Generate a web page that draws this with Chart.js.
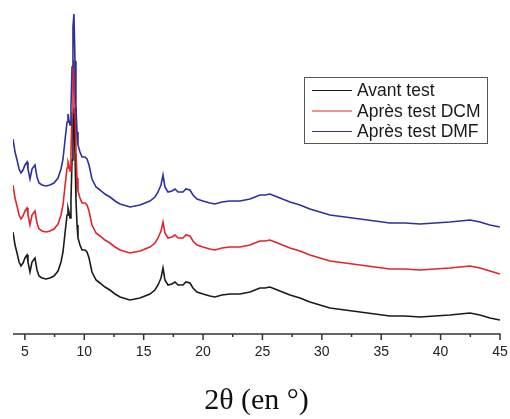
<!DOCTYPE html>
<html><head><meta charset="utf-8">
<script src="https://cdn.jsdelivr.net/npm/chart.js@4.4.1/dist/chart.umd.min.js"></script>
<style>html,body{margin:0;padding:0;background:#fff;} canvas{display:block;}</style>
</head><body>
<canvas id="c" width="510" height="419"></canvas>
<script>
// 2θ positions (degrees)
const twoTheta = [4.00,4.17,4.34,4.51,4.67,4.84,5.01,5.18,5.26,5.43,5.60,5.85,6.02,6.19,6.44,6.78,7.11,7.45,7.79,8.04,
  8.21,8.38,8.55,8.63,8.71,8.80,8.88,8.97,9.05,9.13,9.22,9.30,9.39,9.47,9.64,9.81,10.06,10.23,10.40,10.65,
  10.99,11.32,11.74,12.16,12.59,13.01,13.85,14.69,15.53,15.95,16.21,16.46,16.63,16.79,17.05,17.38,17.64,17.89,18.31,18.56,
  18.90,19.15,19.49,19.99,20.58,21.00,21.59,22.27,23.11,23.95,24.37,24.79,25.21,25.63,26.05,26.47,27.32,28.16,29.00,29.84,
  30.68,31.95,33.21,34.47,35.73,37.00,38.26,39.52,40.78,41.63,42.47,43.31,44.15,44.99];
// intensities (arbitrary units, stacked offsets as in the figure)
const avantTest = [102,89,81,72,68,71,76,79,72,62, 72,76,64,58,56,55,56,58,63,72,
  82,101,119,126,122,116,134,174,214,226, 180,135,109,96,89,84,84,82,76,62,
  54,51,47,44,40,37,34,36,40,44, 49,56,66,54,49,50,52,49,49,52,
  51,46,42,40,38,37,39,40,40,42, 44,46,46,47,45,43,39,36,32,29,
  26,24,22,20,18,18,17,18,19,20, 21,19,16,14];
const apresDCM = [149,136,128,119,115,118,123,126,119,109, 119,123,111,105,103,102,103,105,110,119,
  129,148,166,172,169,163,181,221,261,274, 227,182,156,143,136,131,131,129,123,109,
  101,98,94,91,87,84,81,83,87,91, 96,103,112,101,96,97,99,96,96,99,
  98,93,89,87,85,84,86,87,87,89, 91,93,93,94,92,90,86,83,79,76,
  73,71,69,67,65,65,64,65,66,67, 68,66,63,60];
const apresDMF = [195,182,174,165,161,164,169,172,165,155, 165,169,157,151,149,148,149,151,156,165,
  175,194,212,220,214,209,227,267,307,320, 273,228,202,189,182,177,177,175,169,155,
  147,144,140,137,133,130,127,129,133,137, 142,149,159,147,142,143,145,142,142,145,
  144,139,135,133,131,130,132,133,133,135, 137,139,139,140,138,136,132,129,125,122,
  119,117,115,113,111,111,110,111,112,113, 114,112,109,107];
const seriesLabels = ['Avant test','Après test DCM','Après test DMF'];
const seriesColors = ['#1a1a1a','#e3242b','#2e309c'];
const majorTicks = [5,10,15,20,25,30,35,40,45];
const minorTicks = [7.5,12.5,17.5,22.5,27.5,32.5,37.5,42.5];
const xTitle = '2θ (en °)';

const toPts = arr => twoTheta.map((x,i)=>({x:x, y:arr[i]}));

const axisLegend = {
  id:'axisLegend',
  afterDraw(chart){
    const ctx = chart.ctx, xs = chart.scales.x, y0 = chart.chartArea.bottom;
    ctx.save();
    ctx.strokeStyle = '#333'; ctx.lineWidth = 1.5;
    ctx.beginPath();
    ctx.moveTo(chart.chartArea.left, y0); ctx.lineTo(chart.chartArea.right + 0.75, y0);
    majorTicks.forEach(v=>{const p = xs.getPixelForValue(v); ctx.moveTo(p,y0); ctx.lineTo(p,y0+6);});
    minorTicks.forEach(v=>{const p = xs.getPixelForValue(v); ctx.moveTo(p,y0); ctx.lineTo(p,y0+3);});
    ctx.stroke();
    // legend box
    const bx = 304.5, by = 77.5, bw = 183, bh = 66;
    ctx.fillStyle = '#fff'; ctx.fillRect(bx,by,bw,bh);
    ctx.strokeStyle = '#555'; ctx.lineWidth = 1;
    ctx.strokeRect(bx,by,bw,bh);
    ctx.font = '17.5px "Liberation Sans", Arial, sans-serif';
    ctx.textBaseline = 'middle'; ctx.textAlign = 'left';
    chart.data.datasets.forEach((ds,i)=>{
      const yy = 90.5 + i*20.5;
      ctx.strokeStyle = ds.borderColor; ctx.lineWidth = 1;
      ctx.beginPath(); ctx.moveTo(312,yy); ctx.lineTo(352,yy); ctx.stroke();
      ctx.fillStyle = '#1a1a1a';
      ctx.fillText(ds.label, 357, yy+1);
    });
    ctx.restore();
  }
};

new Chart(document.getElementById('c'), {
  type:'line',
  data:{ datasets:[
    {label:seriesLabels[0], data:toPts(avantTest), borderColor:seriesColors[0], borderWidth:1.6, pointRadius:0, order:3},
    {label:seriesLabels[1], data:toPts(apresDCM), borderColor:seriesColors[1], borderWidth:1.6, pointRadius:0, order:2},
    {label:seriesLabels[2], data:toPts(apresDMF), borderColor:seriesColors[2], borderWidth:1.6, pointRadius:0, order:1}
  ]},
  options:{
    responsive:false, animation:false, devicePixelRatio:1,
    layout:{padding:{left:13,right:10,top:0,bottom:0}},
    plugins:{legend:{display:false}, tooltip:{enabled:false}},
    scales:{
      x:{type:'linear', min:4, max:45,
        border:{display:false}, grid:{display:false, drawTicks:false},
        afterBuildTicks: s => { s.ticks = majorTicks.map(v=>({value:v})); },
        afterFit: s => { s.height = 85; s.paddingLeft = 0; s.paddingRight = 0; },
        ticks:{padding:10, color:'#222', maxRotation:0, autoSkip:false,
          font:{family:'"Liberation Sans", Arial, sans-serif', size:14}},
        title:{display:true, text:xTitle, color:'#111', padding:{top:0,bottom:0},
          font:{family:'"Liberation Serif", "Times New Roman", serif', size:30}}
      },
      y:{display:false, min:0, max:334}
    }
  },
  plugins:[axisLegend]
});
</script>
</body></html>
